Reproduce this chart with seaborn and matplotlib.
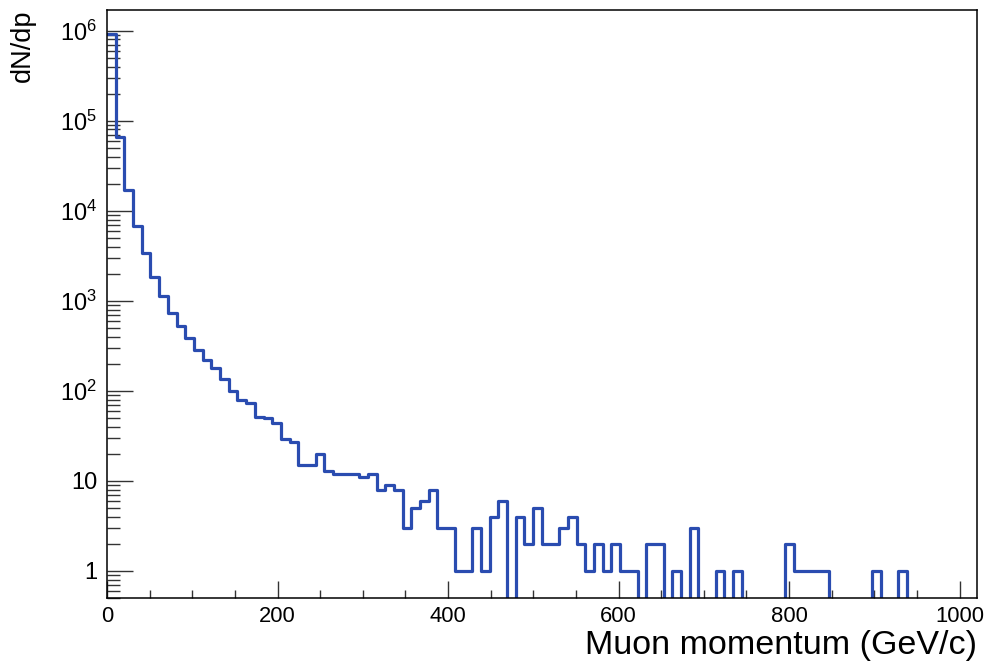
import numpy as np
import pandas as pd
import matplotlib
matplotlib.use("Agg")
import matplotlib.pyplot as plt
import matplotlib.ticker as mticker
import seaborn as sns

# ---- data: 100 bins of 10.2 GeV/c from 0 to 1020 ----
p_min, p_max = 0, 1020
n_bins = 100
counts = [
    9.2e5, 6.6e4, 1.7e4, 6.7e3, 3.4e3, 1.85e3, 1.13e3, 735, 523, 383,
    283, 218, 180, 134, 99, 80, 74, 51, 50, 44,
    29, 27, 15, 15, 20, 13, 12, 12, 12, 11,
    12, 8, 9, 8, 3, 5, 6, 8, 3, 3,
    1, 1, 3, 1, 4, 6, 0, 4, 2, 5,
    2, 2, 3, 4, 2, 1, 2, 1, 2, 1,
    1, 0, 2, 2, 0, 1, 0, 3, 0, 0,
    1, 0, 1, 0, 0, 0, 0, 0, 2, 1,
    1, 1, 1, 0, 0, 0, 0, 0, 1, 0,
    0, 1, 0, 0, 0, 0, 0, 0, 0, 0,
]
x_major_ticks = [0, 200, 400, 600, 800, 1000]
y_major_ticks = [1, 10, 1e2, 1e3, 1e4, 1e5, 1e6]
y_tick_labels = ["1", "10", r"$10^{2}$", r"$10^{3}$", r"$10^{4}$", r"$10^{5}$", r"$10^{6}$"]
x_label = "Muon momentum (GeV/c)"
y_label = "dN/dp"

bin_width = (p_max - p_min) / n_bins
centers = p_min + bin_width * (np.arange(n_bins) + 0.5)
df = pd.DataFrame({"p": centers, "w": counts})

sns.set_theme(style="white")
plt.rcParams["font.family"] = ["Liberation Sans", "DejaVu Sans"]
plt.rcParams["mathtext.fontset"] = "custom"
plt.rcParams["mathtext.rm"] = "Liberation Sans"
plt.rcParams["mathtext.it"] = "Liberation Sans:italic"
plt.rcParams["mathtext.bf"] = "Liberation Sans:bold"
plt.rcParams["text.color"] = "black"
plt.rcParams["axes.labelcolor"] = "black"

fig = plt.figure(figsize=(9.87, 6.65), dpi=100)
ax = fig.add_axes([107 / 987, 1 - 598 / 665, (976.7 - 107) / 987, (598 - 10) / 665])

sns.histplot(data=df, x="p", weights="w", bins=n_bins, binrange=(p_min, p_max),
             element="step", fill=False, color="#2a4cb0", linewidth=2.3, ax=ax)
ax.set_yscale("log", nonpositive="clip")

ax.set_xlim(p_min, p_max)
ax.set_ylim(0.5, 1.7e6)

# spines
for s in ax.spines.values():
    s.set_color("black")
    s.set_linewidth(1.1)

# x ticks
ax.xaxis.set_major_locator(mticker.FixedLocator(x_major_ticks))
ax.xaxis.set_minor_locator(mticker.MultipleLocator(50))
ax.tick_params(axis="x", which="major", direction="in", length=12, width=1.0,
               color="#333333", labelcolor="black", labelsize=15.8, pad=6,
               bottom=True, top=False)
ax.tick_params(axis="x", which="minor", direction="in", length=6, width=1.0,
               color="#333333", bottom=True, top=False)

# y ticks
ax.yaxis.set_major_locator(mticker.FixedLocator(y_major_ticks))
ax.yaxis.set_major_formatter(mticker.FixedFormatter(y_tick_labels))
ax.yaxis.set_minor_locator(mticker.LogLocator(base=10, subs=np.arange(2, 10), numticks=20))
ax.yaxis.set_minor_formatter(mticker.NullFormatter())
ax.tick_params(axis="y", which="major", direction="in", length=19, width=1.0,
               color="#333333", labelcolor="black", labelsize=17, pad=7,
               left=True, right=False)
ax.tick_params(axis="y", which="minor", direction="in", length=9, width=1.0,
               color="#333333", left=True, right=False)

ax.set_xlabel(x_label, fontsize=24.5, loc="right", labelpad=2, color="black")
ax.set_ylabel(y_label, fontsize=19.5, loc="top", color="black")
ax.yaxis.set_label_coords(-0.082, 1.0)

fig.savefig("out.png", dpi=100)
